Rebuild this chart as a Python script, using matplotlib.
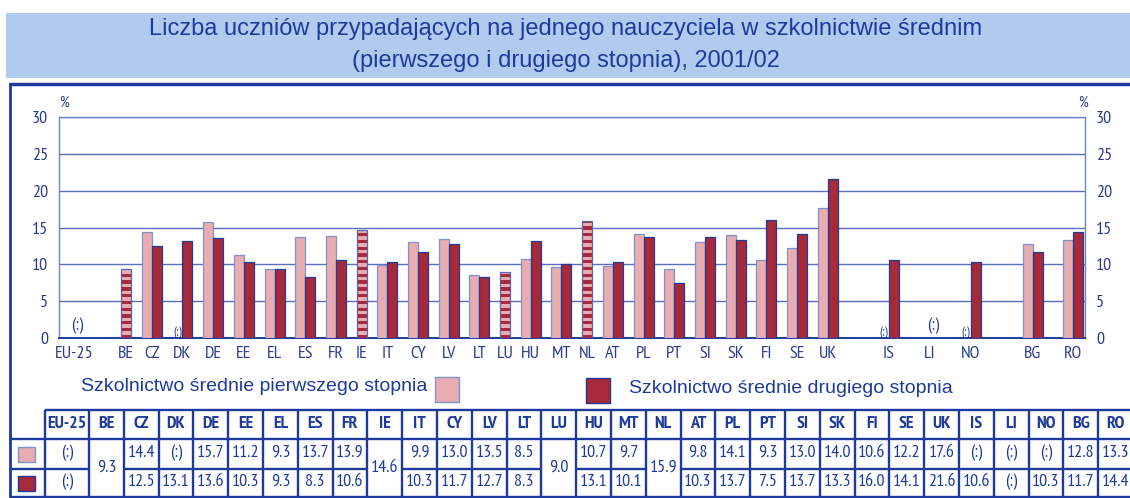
import numpy as np
import matplotlib.pyplot as plt
from matplotlib.patches import Rectangle

# dane
countries = ['EU-25', 'BE', 'CZ', 'DK', 'DE', 'EE', 'EL', 'ES', 'FR', 'IE', 'IT', 'CY', 'LV', 'LT',
             'LU', 'HU', 'MT', 'NL', 'AT', 'PL', 'PT', 'SI', 'SK', 'FI', 'SE', 'UK',
             'IS', 'LI', 'NO', 'BG', 'RO']
nan = np.nan
lower_sec = [nan, 9.3, 14.4, nan, 15.7, 11.2, 9.3, 13.7, 13.9, 14.6, 9.9, 13.0, 13.5, 8.5,
             9.0, 10.7, 9.7, 15.9, 9.8, 14.1, 9.3, 13.0, 14.0, 10.6, 12.2, 17.6,
             nan, nan, nan, 12.8, 13.3]
upper_sec = [nan, 9.3, 12.5, 13.1, 13.6, 10.3, 9.3, 8.3, 10.6, 14.6, 10.3, 11.7, 12.7, 8.3,
             9.0, 13.1, 10.1, 15.9, 10.3, 13.7, 7.5, 13.7, 13.3, 16.0, 14.1, 21.6,
             10.6, nan, 10.3, 11.7, 14.4]
combined = ['BE', 'IE', 'LU', 'NL']   # jedna wartość dla obu poziomów
group_of = [0] + [1] * 25 + [2] * 3 + [3] * 2

title1 = 'Liczba uczniów przypadających na jednego nauczyciela w szkolnictwie średnim'
title2 = '(pierwszego i drugiego stopnia), 2001/02'
label_lower = 'Szkolnictwo średnie pierwszego stopnia'
label_upper = 'Szkolnictwo średnie drugiego stopnia'

# kolory
PINK = '#e8acb1'
RED = '#a82a38'
DARK = '#1e3a9c'
TXT = '#2b3c8c'
GRID = '#5a6fbc'
BAND = '#b0cbee'

NARROW = ['PT Sans Narrow', 'Roboto Condensed', 'DejaVu Sans']
SANS = 'Liberation Sans'

# pozycje słupków (px)
inner_gap = {0: 0, 1: 10.7, 2: 21, 3: 20}
outer_gap = {1: 37, 2: 41, 3: 42}
half = [5 if c in combined else 10 for c in countries]
pos = []
x = 15
for i in range(len(countries)):
    if i > 0:
        g = inner_gap[group_of[i]] if group_of[i] == group_of[i - 1] else outer_gap[group_of[i]]
        x += half[i - 1] + g + half[i]
    pos.append(x)

fig = plt.figure(figsize=(11.3, 4.98), dpi=100)

# tło w pikselach
bg = fig.add_axes([0, 0, 1, 1])
bg.set_xlim(0, 1130)
bg.set_ylim(498, 0)
bg.axis('off')

bg.add_patch(Rectangle((6, 13), 1130, 65, color=BAND, lw=0))
bg.text(566, 29, title1, ha='center', va='center', fontsize=17, color=DARK, family=SANS)
bg.text(566, 61, title2, ha='center', va='center', fontsize=17, color=DARK, family=SANS)

bg.plot([9, 1130], [84, 84], color=DARK, lw=2.5, solid_capstyle='butt')
bg.plot([10, 10], [84, 498], color=DARK, lw=2.0)

# legenda
bg.text(427, 386, label_lower, ha='right', va='center', fontsize=14, color=DARK, family=SANS)
bg.add_patch(Rectangle((435, 377), 24, 25, facecolor=PINK, edgecolor='#7f93cf', lw=1))
bg.add_patch(Rectangle((586, 378), 24, 25, facecolor=RED, edgecolor=DARK, lw=1))
bg.text(629, 388, label_upper, ha='left', va='center', fontsize=14, color=DARK, family=SANS)

# tabela
col_edges = [10, 45] + [89 + 34.8 * k for k in range(len(countries))]
y_top, y_h, y_mid, y_bot = 410, 439, 469, 498
tl = dict(color=DARK, lw=1.7, solid_capstyle='butt')
bg.plot([45, 1130], [y_top, y_top], **tl)
bg.plot([10, 1130], [y_h, y_h], **tl)
bg.plot([10, 1130], [y_bot - 1, y_bot - 1], **tl)
for e in col_edges[1:]:
    bg.plot([e, e], [y_top, y_bot], **tl)
bg.plot([col_edges[0], col_edges[1]], [y_mid, y_mid], **tl)

bg.add_patch(Rectangle((18, 447), 17, 15, facecolor=PINK, edgecolor='#7f93cf', lw=1))
bg.add_patch(Rectangle((18, 476), 17, 15, facecolor=RED, edgecolor=DARK, lw=1))


def fmt(v):
    return '(:)' if np.isnan(v) else f'{v:.1f}'


for i, c in enumerate(countries):
    x0, x1 = col_edges[i + 1], col_edges[i + 2]
    xc = (x0 + x1) / 2
    bg.text(xc, 424, c, ha='center', va='center', fontsize=13, fontweight='bold',
            color=DARK, family=NARROW)
    if c in combined:
        bg.text(xc, 468, fmt(lower_sec[i]), ha='center', va='center', fontsize=13,
                color=DARK, family=NARROW)
    else:
        bg.plot([x0, x1], [y_mid, y_mid], **tl)
        bg.text(xc, 453, fmt(lower_sec[i]), ha='center', va='center', fontsize=13,
                color=DARK, family=NARROW)
        bg.text(xc, 482, fmt(upper_sec[i]), ha='center', va='center', fontsize=13,
                color=DARK, family=NARROW)

# wykres
ax = fig.add_axes([59 / 1130, 160 / 498, 1026 / 1130, 221 / 498], zorder=2)
ax.set_facecolor('none')
ax.set_xlim(0, 1026)
ax.set_ylim(0, 30)

period = 0.92
for i, c in enumerate(countries):
    p = pos[i]
    lo, up = lower_sec[i], upper_sec[i]
    if c in combined:
        ax.bar(p, lo, width=10, color=PINK, lw=0, zorder=3)
        bottoms = np.arange(0, lo, period)
        heights = np.minimum(period / 2, lo - bottoms)
        ax.bar([p] * len(bottoms), heights, bottom=bottoms, width=10, color=RED, lw=0, zorder=3)
        ax.bar(p, lo, width=10, fill=False, edgecolor='#5468b8', lw=0.9, zorder=4)
        continue
    if not np.isnan(lo):
        ax.bar(p - 5, lo, width=10, color=PINK, edgecolor='#7f93cf', lw=0.9, zorder=3)
    if not np.isnan(up):
        ax.bar(p + 5, up, width=10, color=RED, edgecolor=DARK, lw=0.9, zorder=3)
    if np.isnan(lo) and np.isnan(up):
        ax.text(p + 3, 1.6, '(:)', ha='center', va='center', fontsize=13, color=TXT, family=NARROW)
    elif np.isnan(lo):
        ax.text(p - 5, 0.8, '(:)', ha='center', va='center', fontsize=9, color=TXT, family=NARROW)

ax.set_yticks(range(0, 31, 5))
ax.yaxis.grid(True, color=GRID, lw=1.0)
ax.set_axisbelow(True)
ax.set_xticks(pos)
ax.set_xticklabels(countries)
ax.tick_params(axis='x', length=0, pad=6, labelsize=13, labelcolor=TXT)
ax.tick_params(axis='y', length=0, pad=8, labelsize=13, labelcolor=TXT,
               labelleft=True, labelright=True)
for lab in ax.get_xticklabels() + ax.get_yticklabels():
    lab.set_family(NARROW)
for s in ['left', 'right', 'top']:
    ax.spines[s].set_color('#7083c4')
    ax.spines[s].set_linewidth(1.0)
ax.spines['bottom'].set_color(DARK)
ax.spines['bottom'].set_linewidth(1.4)

bg.text(64, 103, '%', ha='center', va='center', fontsize=11, color=TXT, family=NARROW)
bg.text(1083, 103, '%', ha='center', va='center', fontsize=11, color=TXT, family=NARROW)

fig.savefig('out.png', dpi=100)
